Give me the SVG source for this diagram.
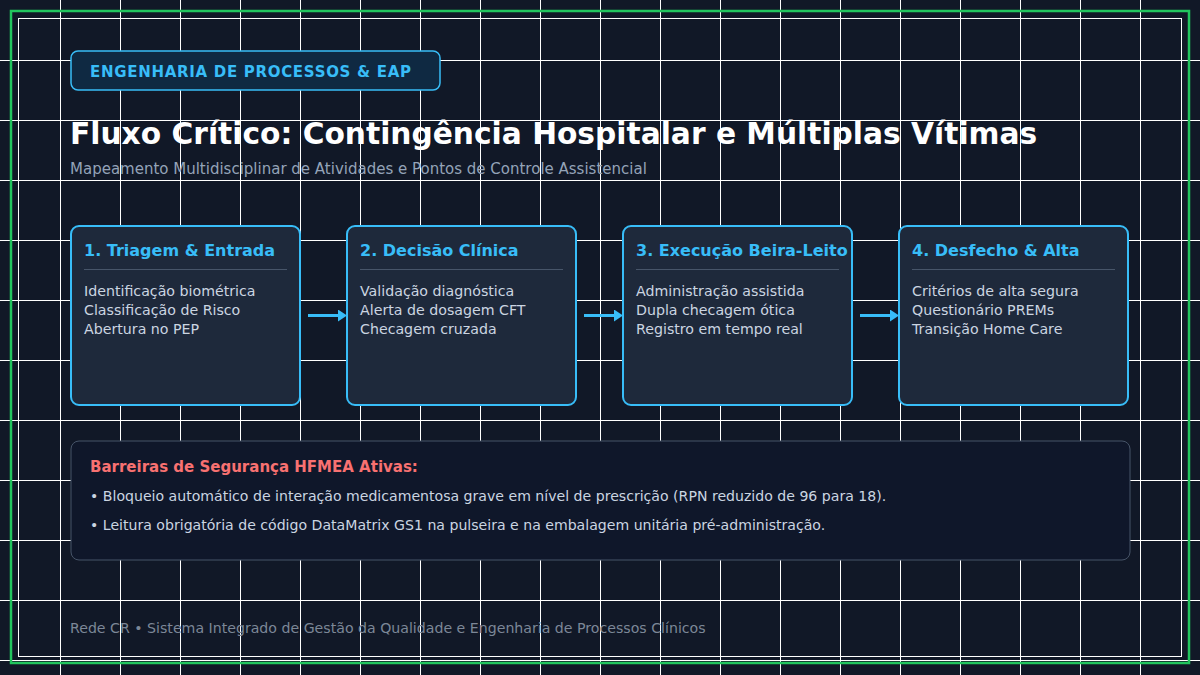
<svg xmlns="http://www.w3.org/2000/svg" width="1200" height="675" viewBox="0 0 1200 675">
<defs>
<style>
.grid line{stroke:#ffffff;stroke-width:1}
.card rect.box{fill:#1e293b;stroke:#38bdf8;stroke-width:2}
.ct{font-family:"DejaVu Sans",sans-serif;font-weight:bold;font-size:16px;fill:#38bdf8}
.cb{font-family:"DejaVu Sans",sans-serif;font-size:14.2px;fill:#cbd5e1}
.div{stroke:#475569;stroke-width:1}
.conn line{stroke:#38bdf8;stroke-width:3}
</style>
<marker id="ah" markerWidth="4" markerHeight="4" refX="0" refY="2" orient="auto" markerUnits="strokeWidth"><path d="M0,0 L3,2 L0,4 Z" fill="#38bdf8"/></marker>
</defs>
<rect width="1200" height="675" fill="#111827"/>
<g class="grid">
<line x1="60.5" y1="0" x2="60.5" y2="675"/><line x1="120.5" y1="0" x2="120.5" y2="675"/><line x1="180.5" y1="0" x2="180.5" y2="675"/><line x1="240.5" y1="0" x2="240.5" y2="675"/><line x1="300.5" y1="0" x2="300.5" y2="675"/><line x1="360.5" y1="0" x2="360.5" y2="675"/><line x1="420.5" y1="0" x2="420.5" y2="675"/><line x1="480.5" y1="0" x2="480.5" y2="675"/><line x1="540.5" y1="0" x2="540.5" y2="675"/><line x1="600.5" y1="0" x2="600.5" y2="675"/><line x1="660.5" y1="0" x2="660.5" y2="675"/><line x1="720.5" y1="0" x2="720.5" y2="675"/><line x1="780.5" y1="0" x2="780.5" y2="675"/><line x1="840.5" y1="0" x2="840.5" y2="675"/><line x1="900.5" y1="0" x2="900.5" y2="675"/><line x1="960.5" y1="0" x2="960.5" y2="675"/><line x1="1020.5" y1="0" x2="1020.5" y2="675"/><line x1="1080.5" y1="0" x2="1080.5" y2="675"/><line x1="1140.5" y1="0" x2="1140.5" y2="675"/>
<line x1="0" y1="60.5" x2="1200" y2="60.5"/><line x1="0" y1="120.5" x2="1200" y2="120.5"/><line x1="0" y1="180.5" x2="1200" y2="180.5"/><line x1="0" y1="240.5" x2="1200" y2="240.5"/><line x1="0" y1="300.5" x2="1200" y2="300.5"/><line x1="0" y1="360.5" x2="1200" y2="360.5"/><line x1="0" y1="420.5" x2="1200" y2="420.5"/><line x1="0" y1="480.5" x2="1200" y2="480.5"/><line x1="0" y1="540.5" x2="1200" y2="540.5"/><line x1="0" y1="600.5" x2="1200" y2="600.5"/><line x1="0" y1="660.5" x2="1200" y2="660.5"/>
</g>
<rect x="11" y="11" width="1178" height="652" fill="none" stroke="#22c55e" stroke-width="2.5"/>
<rect x="18.5" y="18.5" width="1163" height="638" fill="none" stroke="#ffffff" stroke-width="1"/>
<g id="badge">
<rect x="71" y="51" width="369" height="39" rx="7" fill="#0f2942" stroke="#38bdf8" stroke-width="1.5"/>
<text x="90" y="77" font-family="DejaVu Sans, sans-serif" font-weight="bold" font-size="15" fill="#38bdf8" letter-spacing="0.7">ENGENHARIA DE PROCESSOS &amp; EAP</text>
</g>
<g id="header">
<text x="70" y="144" font-family="DejaVu Sans, sans-serif" font-weight="bold" font-size="29.7" fill="#ffffff">Fluxo Crítico: Contingência Hospitalar e Múltiplas Vítimas</text>
<text x="70" y="174" font-family="DejaVu Sans, sans-serif" font-size="15" fill="#94a3b8">Mapeamento Multidisciplinar de Atividades e Pontos de Controle Assistencial</text>
</g>
<g id="card1" class="card">
<rect class="box" x="71" y="226" width="229" height="179" rx="8"/>
<text class="ct" x="84" y="256">1. Triagem &amp; Entrada</text>
<line class="div" x1="84" y1="269.5" x2="287" y2="269.5"/>
<text class="cb" x="84" y="296">Identificação biométrica</text>
<text class="cb" x="84" y="315">Classificação de Risco</text>
<text class="cb" x="84" y="334">Abertura no PEP</text>
</g>
<g id="card2" class="card">
<rect class="box" x="347" y="226" width="229" height="179" rx="8"/>
<text class="ct" x="360" y="256">2. Decisão Clínica</text>
<line class="div" x1="360" y1="269.5" x2="563" y2="269.5"/>
<text class="cb" x="360" y="296">Validação diagnóstica</text>
<text class="cb" x="360" y="315">Alerta de dosagem CFT</text>
<text class="cb" x="360" y="334">Checagem cruzada</text>
</g>
<g id="card3" class="card">
<rect class="box" x="623" y="226" width="229" height="179" rx="8"/>
<text class="ct" x="636" y="256">3. Execução Beira-Leito</text>
<line class="div" x1="636" y1="269.5" x2="839" y2="269.5"/>
<text class="cb" x="636" y="296">Administração assistida</text>
<text class="cb" x="636" y="315">Dupla checagem ótica</text>
<text class="cb" x="636" y="334">Registro em tempo real</text>
</g>
<g id="card4" class="card">
<rect class="box" x="899" y="226" width="229" height="179" rx="8"/>
<text class="ct" x="912" y="256">4. Desfecho &amp; Alta</text>
<line class="div" x1="912" y1="269.5" x2="1115" y2="269.5"/>
<text class="cb" x="912" y="296">Critérios de alta segura</text>
<text class="cb" x="912" y="315">Questionário PREMs</text>
<text class="cb" x="912" y="334">Transição Home Care</text>
</g>
<g id="connectors" class="conn">
<line x1="308" y1="315.5" x2="338" y2="315.5" marker-end="url(#ah)"/>
<line x1="584" y1="315.5" x2="614" y2="315.5" marker-end="url(#ah)"/>
<line x1="860" y1="315.5" x2="890" y2="315.5" marker-end="url(#ah)"/>
</g>
<g id="barriers">
<rect x="71" y="441" width="1059" height="119" rx="8" fill="#0f172a" stroke="#475569" stroke-width="1"/>
<text x="90" y="472" font-family="DejaVu Sans, sans-serif" font-weight="bold" font-size="15" fill="#f87171">Barreiras de Segurança HFMEA Ativas:</text>
<text x="90" y="501" font-family="DejaVu Sans, sans-serif" font-size="14.1" fill="#cbd5e1">• Bloqueio automático de interação medicamentosa grave em nível de prescrição (RPN reduzido de 96 para 18).</text>
<text x="90" y="530" font-family="DejaVu Sans, sans-serif" font-size="14.1" fill="#cbd5e1">• Leitura obrigatória de código DataMatrix GS1 na pulseira e na embalagem unitária pré-administração.</text>
</g>
<g id="footer">
<text x="70" y="633" font-family="DejaVu Sans, sans-serif" font-size="14.15" fill="#7c8797">Rede CR • Sistema Integrado de Gestão da Qualidade e Engenharia de Processos Clínicos</text>
</g>
</svg>
